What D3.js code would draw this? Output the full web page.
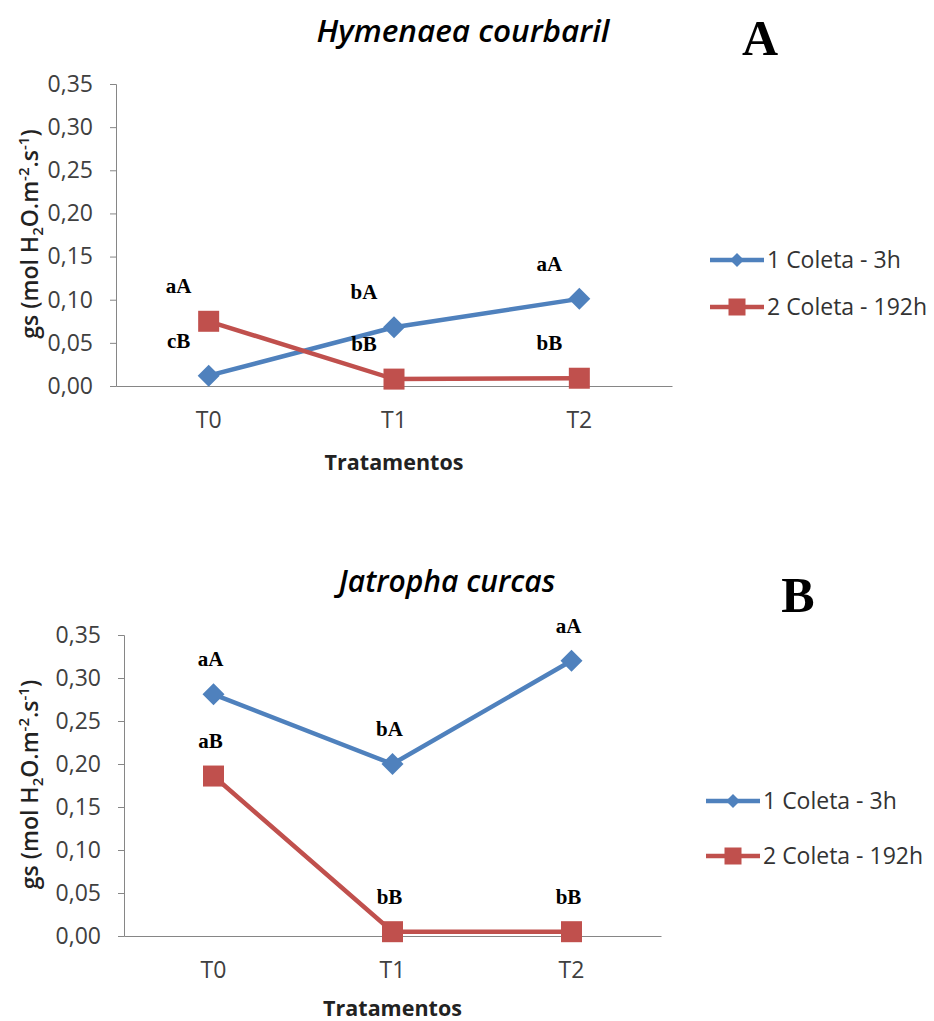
<!DOCTYPE html>
<html>
<head>
<meta charset="utf-8">
<script src="https://cdn.jsdelivr.net/npm/d3@7"></script>
<style>
  body { margin: 0; background: #fff; }
  svg { display: block; }
  .sans { font-family: "Open Sans", "Noto Sans", sans-serif; }
</style>
</head>
<body>
<div id="chart"></div>
<script>
// data
var categories = ["T0", "T1", "T2"];
var seriesNames = ["1 Coleta - 3h", "2 Coleta - 192h"];
var yTicks = [0, 0.05, 0.10, 0.15, 0.20, 0.25, 0.30, 0.35];

var hymenaeaColeta1 = [0.012, 0.068, 0.101];
var hymenaeaColeta2 = [0.075, 0.008, 0.009];
var hymenaeaLetters1 = ["cB", "bA", "aA"];
var hymenaeaLetters2 = ["aA", "bB", "bB"];

var jatrophaColeta1 = [0.281, 0.200, 0.320];
var jatrophaColeta2 = [0.186, 0.005, 0.005];
var jatrophaLetters1 = ["aA", "bA", "aA"];
var jatrophaLetters2 = ["aB", "bB", "bB"];

var colors = ["#4F81BD", "#C0504D"];

var svg = d3.select('#chart').append('svg')
    .attr('width', 934)
    .attr('height', 1021);

// layout for the two panels
var panels = [
  { title: 'Hymenaea courbaril', tag: 'A',
    series: [hymenaeaColeta1, hymenaeaColeta2],
    letters: [hymenaeaLetters1, hymenaeaLetters2],
    left: 116, right: 672, top: 84, bottom: 386,
    titleX: 463, titleY: 42, titleSize: 31.5, tagX: 760, tagY: 55,
    legendX: 710, legendY: [260, 307], labelDx: -30, xTitleDy: 84 },
  { title: 'Jatropha curcas', tag: 'B',
    series: [jatrophaColeta1, jatrophaColeta2],
    letters: [jatrophaLetters1, jatrophaLetters2],
    left: 124, right: 661, top: 635, bottom: 936,
    titleX: 447, titleY: 592, titleSize: 30, tagX: 798, tagY: 612,
    legendX: 706, legendY: [801, 856], labelDx: -3, xTitleDy: 80 }
];

// marker shapes
function marker(g, i, s) {
  if (i === 0) {
    g.append('path').attr('d', 'M0,' + (-s) + 'L' + s + ',0L0,' + s + 'L' + (-s) + ',0Z');
  } else {
    g.append('rect').attr('x', -s).attr('y', -s).attr('width', 2 * s).attr('height', 2 * s);
  }
}

panels.forEach(function(p) {
  var g = svg.append('g');

  var x = d3.scaleBand().domain(categories).range([p.left, p.right]);
  var y = d3.scaleLinear().domain([0, 0.35]).range([p.bottom, p.top]);

  // y axis
  var yAxis = d3.axisLeft(y)
      .tickValues(yTicks)
      .tickSize(6)
      .tickPadding(17)
      .tickFormat(function(d) { return d3.format('.2f')(d).replace('.', ','); });
  var ya = g.append('g').attr('transform', 'translate(' + p.left + ',0)').call(yAxis);
  ya.select('.domain').attr('stroke', '#868686');
  ya.selectAll('.tick line').attr('stroke', '#868686');
  ya.selectAll('.tick text')
      .attr('class', 'sans')
      .attr('font-size', 23)
      .attr('fill', '#404040');

  // x axis
  var xAxis = d3.axisBottom(x).tickSize(0).tickPadding(26);
  var xa = g.append('g').attr('transform', 'translate(0,' + p.bottom + ')').call(xAxis);
  xa.select('.domain').attr('stroke', '#868686');
  xa.selectAll('.tick text')
      .attr('class', 'sans')
      .attr('font-size', 23)
      .attr('fill', '#404040');

  // series lines and markers
  p.series.forEach(function(vals, si) {
    var pts = vals.map(function(v, i) { return [x(categories[i]) + x.bandwidth() / 2, y(v)]; });
    g.append('path')
        .attr('d', d3.line()(pts))
        .attr('fill', 'none')
        .attr('stroke', colors[si])
        .attr('stroke-width', 4.5);
    pts.forEach(function(pt) {
      var m = g.append('g')
          .attr('transform', 'translate(' + pt[0] + ',' + pt[1] + ')')
          .attr('fill', colors[si]);
      marker(m, si, si === 0 ? 11 : 10.5);
    });
    // significance letters
    g.selectAll(null)
        .data(p.letters[si]).enter()
      .append('text')
        .attr('x', function(d, i) { return pts[i][0] + p.labelDx; })
        .attr('y', function(d, i) { return pts[i][1] - 28; })
        .attr('text-anchor', 'middle')
        .attr('font-family', '"Liberation Serif", "Times New Roman", serif')
        .attr('font-weight', 'bold')
        .attr('font-size', 21)
        .text(function(d) { return d; });
  });

  // legend
  seriesNames.forEach(function(name, si) {
    var ly = p.legendY[si];
    g.append('line')
        .attr('x1', p.legendX).attr('x2', p.legendX + 54)
        .attr('y1', ly).attr('y2', ly)
        .attr('stroke', colors[si]).attr('stroke-width', 4.5);
    var m = g.append('g')
        .attr('transform', 'translate(' + (p.legendX + 27) + ',' + ly + ')')
        .attr('fill', colors[si]);
    marker(m, si, si === 0 ? 7 : 8.5);
    g.append('text')
        .attr('class', 'sans')
        .attr('x', p.legendX + 57).attr('y', ly + 8)
        .attr('font-size', 23)
        .attr('fill', '#333')
        .text(name);
  });

  // titles
  g.append('text')
      .attr('class', 'sans')
      .attr('x', p.titleX).attr('y', p.titleY)
      .attr('text-anchor', 'middle')
      .attr('font-size', p.titleSize)
      .attr('font-style', 'italic')
      .attr('font-weight', 600)
      .text(p.title);
  g.append('text')
      .attr('x', p.tagX).attr('y', p.tagY)
      .attr('text-anchor', 'middle')
      .attr('font-family', '"Liberation Serif", "Times New Roman", serif')
      .attr('font-weight', 'bold')
      .attr('font-size', 50)
      .text(p.tag);

  // axis titles
  g.append('text')
      .attr('class', 'sans')
      .attr('x', x('T1') + x.bandwidth() / 2)
      .attr('y', p.bottom + p.xTitleDy)
      .attr('text-anchor', 'middle')
      .attr('font-size', 21.5)
      .attr('font-weight', 'bold')
      .attr('fill', '#222')
      .text('Tratamentos');

  var yt = g.append('text')
      .attr('class', 'sans')
      .attr('transform', 'translate(38,' + ((p.top + p.bottom) / 2 - 1) + ') rotate(-90)')
      .attr('text-anchor', 'middle')
      .attr('font-size', 23)
      .attr('font-weight', 600)
      .attr('fill', '#222');
  yt.append('tspan').text('gs (mol H');
  yt.append('tspan').attr('font-size', 15).attr('dy', 5).text('2');
  yt.append('tspan').attr('dy', -5).text('O.m');
  yt.append('tspan').attr('font-size', 15).attr('dy', -9).text('-2');
  yt.append('tspan').attr('dy', 9).text('.s');
  yt.append('tspan').attr('font-size', 15).attr('dy', -9).text('-1');
  yt.append('tspan').attr('dy', 9).text(')');
});
</script>
</body>
</html>
